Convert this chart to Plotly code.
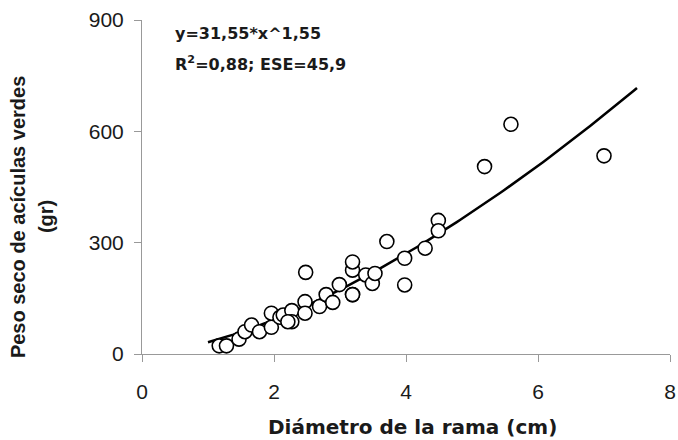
import numpy as np
import plotly.graph_objects as go

# Observed data (branch diameter in cm, dry weight of green needles in g)
diametro = [1.17, 1.28, 1.47, 1.56, 1.66, 1.78, 1.96, 1.96, 2.09, 2.14, 2.27, 2.27, 2.21,
            2.47, 2.47, 2.48, 2.69, 2.79, 2.89, 2.99, 3.19, 3.19, 3.19, 3.19, 3.39,
            3.49, 3.53, 3.71, 3.98, 3.98, 4.29, 4.49, 4.49, 5.19, 5.59, 7.0]
peso = [22, 22, 40, 60, 78, 60, 72, 110, 99, 105, 117, 87, 87,
        141, 110, 220, 128, 160, 139, 187, 160, 226, 248, 160, 213,
        190, 217, 303, 258, 186, 285, 360, 332, 505, 619, 534]

# Fitted power model y = a * x^b
coef_a = 31.55
coef_b = 1.55
fit_x_min, fit_x_max = 1.0, 7.5

x_ticks = [0, 2, 4, 6, 8]
y_ticks = [0, 300, 600, 900]

fit_x = np.linspace(fit_x_min, fit_x_max, 120)
fit_y = coef_a * fit_x ** coef_b

ARIAL = "Liberation Sans, Arial, Helvetica, sans-serif"
WIDE = "DejaVu Sans, Verdana, sans-serif"
TXT = "#1a1a1a"

fig = go.Figure()
fig.add_trace(go.Scatter(x=fit_x, y=fit_y, mode="lines",
                         line=dict(color="black", width=2.5), hoverinfo="skip"))
fig.add_trace(go.Scatter(x=diametro, y=peso, mode="markers",
                         marker=dict(size=14, color="white",
                                     line=dict(color="black", width=1.6))))

axis_common = dict(showgrid=False, zeroline=False, automargin=False,
                   showline=True, linecolor="#999999", linewidth=1,
                   ticks="outside", ticklen=7, tickcolor="#999999",
                   tickfont=dict(family=ARIAL, size=21, color=TXT))

fig.update_layout(
    width=678, height=440,
    margin=dict(l=142, r=8, t=20, b=86),
    paper_bgcolor="white", plot_bgcolor="white",
    showlegend=False,
    font=dict(family=ARIAL, size=16, color=TXT),
    xaxis=dict(range=[0, 8], tickvals=x_ticks, ticklabelstandoff=12, **axis_common),
    yaxis=dict(range=[0, 900], tickvals=y_ticks, ticklabelstandoff=6, **axis_common),
    annotations=[
        dict(x=0.0587, y=0.961, xref="paper", yref="paper", xanchor="left", yanchor="middle",
             text="<b>y=31,55*x^1,55</b>", showarrow=False,
             font=dict(size=16, family=WIDE, color=TXT)),
        dict(x=0.0587, y=0.871, xref="paper", yref="paper", xanchor="left", yanchor="middle",
             text="<b>R<sup>2</sup>=0,88; ESE=45,9</b>", showarrow=False,
             font=dict(size=16, family=WIDE, color=TXT)),
        # x-axis title
        dict(x=0.513, y=-0.2186, xref="paper", yref="paper", xanchor="center", yanchor="middle",
             text="<b>Diámetro de la rama (cm)</b>", showarrow=False,
             font=dict(size=20, family=WIDE, color=TXT)),
        # y-axis title (two lines)
        dict(x=-0.236, y=0.411, xref="paper", yref="paper", xanchor="center", yanchor="middle",
             text="<b>Peso seco de acículas verdes</b>", textangle=-90, showarrow=False,
             font=dict(size=20, family=ARIAL, color=TXT)),
        dict(x=-0.183, y=0.411, xref="paper", yref="paper", xanchor="center", yanchor="middle",
             text="<b>(gr)</b>", textangle=-90, showarrow=False,
             font=dict(size=20, family=ARIAL, color=TXT)),
    ],
)

# remove the browser's default 8px page margin so the figure fills the window
fig.write_html("out.html",
               config={"displayModeBar": False},
               post_script="document.body.style.margin='0px';document.body.style.overflow='hidden';")
